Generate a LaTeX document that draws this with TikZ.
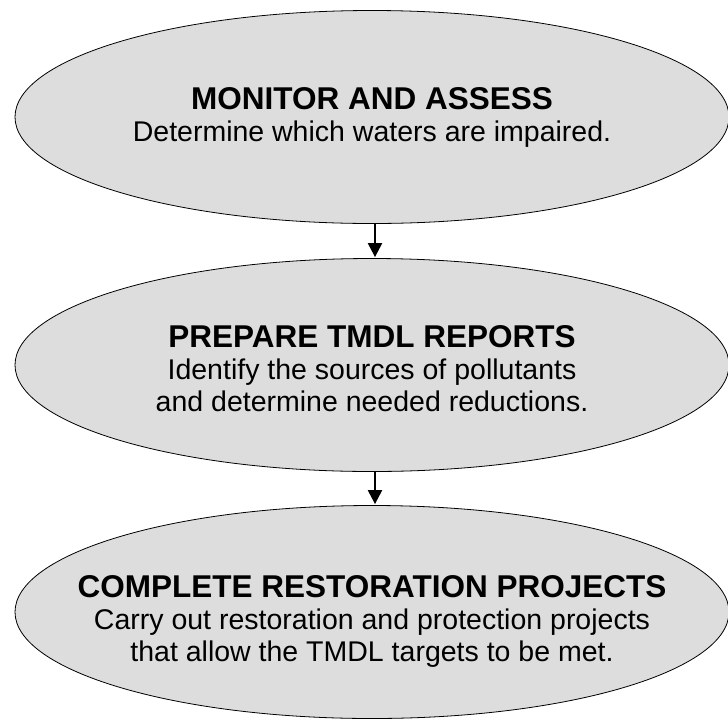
\documentclass[tikz,border=0pt]{standalone}
\usepackage{fontspec}
\setmainfont{Liberation Sans}
\usetikzlibrary{arrows.meta,shapes.geometric}
\definecolor{stagefill}{RGB}{221,221,221}
\begin{document}
\begin{tikzpicture}[x=1pt,y=-1pt,
  stage/.style={draw=black, line width=0.8pt, fill=stagefill, ellipse,
    minimum width=714pt, minimum height=213pt, inner sep=0pt},
  stagetext/.style={align=center, inner sep=0pt,
    font=\fontsize{28.5}{32}\selectfont},
  flow/.style={line width=2.2pt, -{Triangle[width=14pt,length=14pt]},
    shorten >=1pt}]
\useasboundingbox (0,0) rectangle (728,721);

% three process stages
\node[stage] (s1) at (372,117) {};
\node[stage] (s2) at (372,365) {};
\node[stage] (s3) at (372,612) {};

\node[stagetext] (t1) at (372,117)
  {{\fontsize{31.5}{32}\selectfont\bfseries MONITOR AND ASSESS}\\
   Determine which waters are impaired.};
\node[stagetext] (t2) at (372,369)
  {{\fontsize{31.5}{32}\selectfont\bfseries PREPARE TMDL REPORTS}\\
   Identify the sources of pollutants\\
   and determine needed reductions.};
\node[stagetext] (t3) at (372,621)
  {{\fontsize{31.5}{32}\selectfont\bfseries COMPLETE RESTORATION PROJECTS}\\
   Carry out restoration and protection projects\\
   that allow the TMDL targets to be met.};

% connectors between stages, set slightly right of the centre line
\draw[flow] ([xshift=3pt]s1.south) -- ([xshift=3pt]s2.north);
\draw[flow] ([xshift=3pt]s2.south) -- ([xshift=3pt]s3.north);
\end{tikzpicture}
\end{document}
